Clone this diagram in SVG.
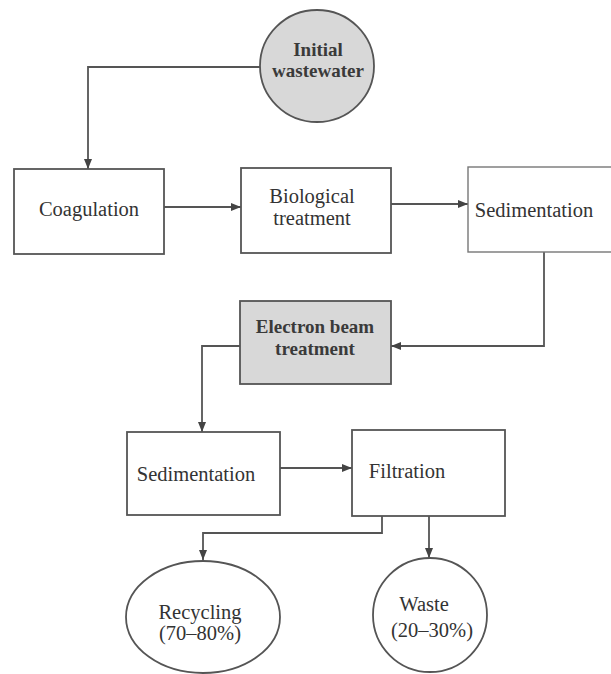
<svg xmlns="http://www.w3.org/2000/svg" width="611" height="674" viewBox="0 0 611 674">
<defs>
<marker id="arr" viewBox="0 0 10 8" refX="10" refY="4" markerWidth="10" markerHeight="8" markerUnits="userSpaceOnUse" orient="auto">
<path d="M0,0 L10,4 L0,8 Z" fill="#444"/>
</marker>
</defs>
<style>
.box{fill:#fff;stroke:#555;stroke-width:1.8}
.shade{fill:#d8d8d8;stroke:#555;stroke-width:1.8}
text{font-family:'Liberation Serif','DejaVu Serif','Times New Roman',serif}
.lbl{font-size:20.5px;fill:#333;text-anchor:middle}
.blbl{font-size:19px;font-weight:bold;fill:#3a3a3a;text-anchor:middle}
.conn{fill:none;stroke:#555;stroke-width:1.8}
</style>
<rect width="611" height="674" fill="#fff"/>
<g id="connectors">
<path class="conn" d="M260,67 H88 V169" marker-end="url(#arr)"/>
<path class="conn" d="M164,207 H241" marker-end="url(#arr)"/>
<path class="conn" d="M391,204 H468" marker-end="url(#arr)"/>
<path class="conn" d="M544,252 V346 H391" marker-end="url(#arr)"/>
<path class="conn" d="M240,346 H202 V432" marker-end="url(#arr)"/>
<path class="conn" d="M280,468 H352" marker-end="url(#arr)"/>
<path class="conn" d="M382,516 V533 H203 V560" marker-end="url(#arr)"/>
<path class="conn" d="M429,516 V558" marker-end="url(#arr)"/>
</g>
<g id="initial">
<ellipse class="shade" cx="317" cy="66" rx="57" ry="56"/>
<text class="blbl" x="318" y="56" font-family="Liberation Serif, DejaVu Serif, serif">Initial</text>
<text class="blbl" x="318" y="77" font-family="Liberation Serif, DejaVu Serif, serif">wastewater</text>
</g>
<g id="coagulation">
<rect class="box" x="14" y="169" width="150" height="85"/>
<text class="lbl" x="89" y="216" font-family="Liberation Serif, DejaVu Serif, serif">Coagulation</text>
</g>
<g id="biological">
<rect class="box" x="241" y="168" width="150" height="85"/>
<text class="lbl" x="312" y="203" font-family="Liberation Serif, DejaVu Serif, serif">Biological</text>
<text class="lbl" x="312" y="225" font-family="Liberation Serif, DejaVu Serif, serif">treatment</text>
</g>
<g id="sedimentation1">
<rect class="box" x="468" y="167" width="150" height="85" style="stroke:#777;stroke-width:1.4"/>
<text class="lbl" x="534" y="217" font-family="Liberation Serif, DejaVu Serif, serif">Sedimentation</text>
</g>
<g id="electron">
<rect class="shade" x="240" y="301" width="151" height="83"/>
<text class="blbl" x="315" y="333" font-family="Liberation Serif, DejaVu Serif, serif">Electron beam</text>
<text class="blbl" x="315" y="355" font-family="Liberation Serif, DejaVu Serif, serif">treatment</text>
</g>
<g id="sedimentation2">
<rect class="box" x="127" y="432" width="153" height="83"/>
<text class="lbl" x="196" y="481" font-family="Liberation Serif, DejaVu Serif, serif">Sedimentation</text>
</g>
<g id="filtration">
<rect class="box" x="352" y="430" width="153" height="86"/>
<text class="lbl" x="407" y="478" font-family="Liberation Serif, DejaVu Serif, serif">Filtration</text>
</g>
<g id="recycling">
<ellipse class="box" cx="203" cy="617" rx="77" ry="56"/>
<text class="lbl" x="200" y="619" font-family="Liberation Serif, DejaVu Serif, serif">Recycling</text>
<text class="lbl" x="200" y="640" font-family="Liberation Serif, DejaVu Serif, serif">(70–80%)</text>
</g>
<g id="waste">
<ellipse class="box" cx="430" cy="615" rx="57" ry="57"/>
<text class="lbl" x="424" y="611" font-family="Liberation Serif, DejaVu Serif, serif">Waste</text>
<text class="lbl" x="432" y="637" font-family="Liberation Serif, DejaVu Serif, serif">(20–30%)</text>
</g>
</svg>
